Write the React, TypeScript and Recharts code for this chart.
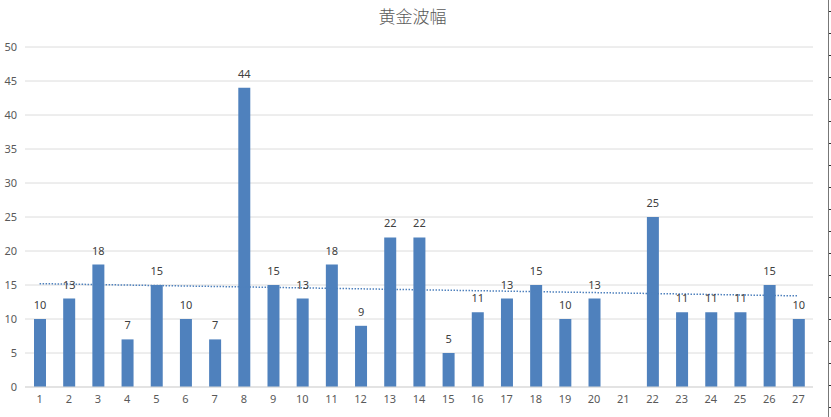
import React from 'react';
import {
  BarChart,
  Bar,
  XAxis,
  YAxis,
  CartesianGrid,
  LabelList,
  ReferenceLine,
} from 'recharts';

const categories = [
  '1', '2', '3', '4', '5', '6', '7', '8', '9', '10', '11', '12', '13', '14',
  '15', '16', '17', '18', '19', '20', '21', '22', '23', '24', '25', '26', '27',
];
const amplitude: (number | null)[] = [
  10, 13, 18, 7, 15, 10, 7, 44, 15, 13, 18, 9, 22, 22, 5, 11, 13, 15, 10, 13,
  null, 25, 11, 11, 11, 15, 10,
];
// trend line end points
const trendStart = 15.2;
const trendEnd = 13.4;
const yTicks = [0, 5, 10, 15, 20, 25, 30, 35, 40, 45, 50];

const data = categories.map((c, i) => ({ day: c, value: amplitude[i] }));

const BAR_COLOR = '#4f81bd';
const TEXT = '#595959';
const FONT = '"Noto Sans", "Liberation Sans", sans-serif';

export default function App() {
  return (
    <div
      style={{
        position: 'absolute',
        left: 0,
        top: 0,
        width: 831,
        height: 417,
        background: '#fff',
        fontFamily: FONT,
      }}
    >
      <div
        style={{
          position: 'absolute',
          left: 0,
          top: 3,
          width: 825,
          textAlign: 'center',
          fontFamily: '"Noto Sans CJK SC", sans-serif',
          fontSize: 17,
          fontWeight: 300,
          color: TEXT,
        }}
      >
        黄金波幅
      </div>
      <BarChart
        width={831}
        height={417}
        data={data}
        margin={{ top: 47, right: 18, left: 0, bottom: 0 }}
        barSize={12}
      >
        <CartesianGrid vertical={false} stroke="#dcdcdc" />
        <XAxis
          dataKey="day"
          tickLine={false}
          stroke="#d9d9d9"
          tick={{ fill: TEXT, fontSize: 11, fontFamily: FONT }}
          height={30}
        />
        <YAxis
          domain={[0, 50]}
          ticks={yTicks}
          width={25}
          axisLine={false}
          tickLine={false}
          tick={{ fill: TEXT, fontSize: 11, fontFamily: FONT }}
        />
        <Bar dataKey="value" fill={BAR_COLOR} isAnimationActive={false}>
          <LabelList
            dataKey="value"
            position="top"
            offset={10}
            fill="#404040"
            fontSize={11}
            fontFamily={FONT}
          />
        </Bar>
        <ReferenceLine
          segment={[
            { x: categories[0], y: trendStart },
            { x: categories[categories.length - 1], y: trendEnd },
          ]}
          stroke={BAR_COLOR}
          strokeWidth={1.5}
          strokeDasharray="1.5 1.5"
        />
      </BarChart>
      <div
        style={{
          position: 'absolute',
          left: 828,
          top: 0,
          width: 3,
          height: 417,
          borderLeft: '1px solid #777',
          backgroundImage:
            'repeating-linear-gradient(to bottom, transparent 0px, transparent 11px, #333 11px, #333 12px, transparent 12px, transparent 22px)',
          backgroundRepeat: 'repeat-y',
        }}
      />
    </div>
  );
}
